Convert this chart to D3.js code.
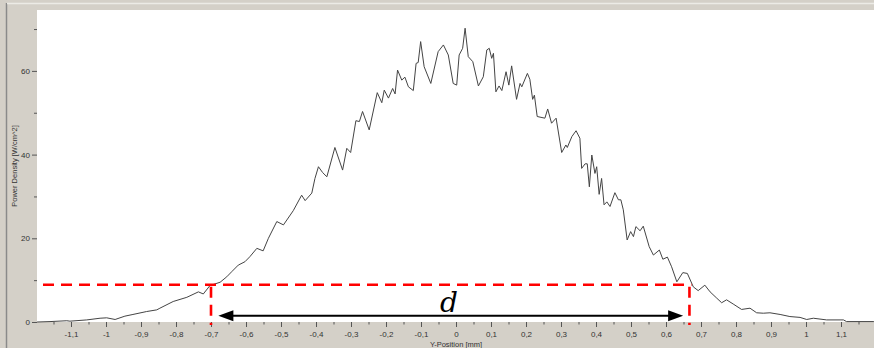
<!DOCTYPE html>
<html>
<head>
<meta charset="utf-8">
<script src="https://cdn.jsdelivr.net/npm/d3@7/dist/d3.min.js"></script>
<style>
  html, body { margin: 0; padding: 0; background: #d4d0c8; }
  svg { display: block; }
</style>
</head>
<body>
<svg id="chart" width="874" height="348"></svg>
<script>
// ---- data ----
const yPositionMm = [
  -1.197, -1.160, -1.112, -1.103, -1.055, -1.017, -0.998, -0.974, -0.946, -0.923,
  -0.884, -0.855, -0.846, -0.808, -0.769, -0.736, -0.722, -0.703, -0.674, -0.655,
  -0.641, -0.622, -0.603, -0.589, -0.569, -0.551, -0.536, -0.512, -0.493, -0.465,
  -0.441, -0.431, -0.412, -0.403, -0.393, -0.381, -0.369, -0.346, -0.324, -0.312,
  -0.301, -0.286, -0.276, -0.267, -0.248, -0.225, -0.212, -0.205, -0.193, -0.181,
  -0.174, -0.167, -0.155, -0.146, -0.136, -0.122, -0.114, -0.108, -0.101, -0.091,
  -0.072, -0.051, -0.036, -0.022, -0.008, 0.002, 0.009, 0.019, 0.026, 0.035,
  0.048, 0.064, 0.078, 0.088, 0.095, 0.102, 0.107, 0.114, 0.123, 0.131,
  0.143, 0.151, 0.159, 0.173, 0.183, 0.188, 0.204, 0.211, 0.219, 0.224,
  0.232, 0.254, 0.262, 0.273, 0.286, 0.302, 0.314, 0.318, 0.331, 0.343,
  0.354, 0.359, 0.369, 0.375, 0.381, 0.388, 0.397, 0.402, 0.409, 0.416,
  0.423, 0.431, 0.440, 0.454, 0.464, 0.471, 0.478, 0.489, 0.499, 0.507,
  0.514, 0.526, 0.535, 0.552, 0.564, 0.581, 0.591, 0.604, 0.616, 0.631,
  0.648, 0.661, 0.678, 0.692, 0.711, 0.726, 0.745, 0.759, 0.773, 0.792,
  0.816, 0.840, 0.859, 0.878, 0.897, 0.926, 0.954, 0.983, 1.002, 1.021,
  1.059, 1.107, 1.116, 1.194
];
const powerDensity = [
  0.0, 0.1, 0.3, 0.2, 0.5, 0.9, 1.0, 0.6, 1.4, 1.8,
  2.5, 2.9, 3.3, 4.9, 5.9, 7.2, 6.7, 8.7, 9.5, 10.8,
  12.0, 13.6, 14.4, 15.6, 17.6, 17.0, 20.0, 24.0, 23.2, 26.6,
  30.3, 29.0, 30.8, 34.3, 37.1, 35.7, 34.7, 41.7, 36.3, 41.5,
  40.5, 48.1, 47.9, 50.3, 45.9, 54.8, 52.4, 55.4, 53.5, 55.8,
  54.5, 60.2, 57.8, 58.5, 56.2, 55.3, 61.8, 62.0, 67.0, 61.0,
  57.0, 64.6, 66.2, 63.8, 57.0, 56.6, 63.8, 65.4, 70.2, 63.4,
  62.2, 56.4, 58.6, 65.0, 65.4, 63.0, 64.2, 55.0, 56.4, 55.3,
  59.8, 56.6, 61.2, 53.2, 57.0, 56.2, 59.4, 58.0, 53.2, 54.2,
  49.1, 48.7, 50.9, 47.5, 48.7, 40.5, 42.3, 41.7, 44.3, 45.7,
  43.9, 36.7, 37.8, 37.8, 32.3, 39.9, 35.5, 37.1, 30.5, 34.3,
  28.0, 28.7, 27.6, 30.9, 29.2, 29.2, 26.8, 19.6, 21.6, 20.4,
  22.8, 21.8, 22.9, 18.0, 16.0, 17.2, 15.0, 15.5, 13.2, 9.6,
  11.8, 11.6, 8.4, 7.5, 8.8, 7.2, 5.7, 4.6, 5.3, 4.3,
  3.0, 3.3, 2.2, 2.1, 2.2, 1.8, 1.3, 1.1, 0.6, 0.9,
  0.5, 0.5, 0.1, 0.1
];
const xMajorTicks = [-1.1, -1, -0.9, -0.8, -0.7, -0.6, -0.5, -0.4, -0.3, -0.2, -0.1, 0,
                     0.1, 0.2, 0.3, 0.4, 0.5, 0.6, 0.7, 0.8, 0.9, 1, 1.1];
const xMinorTicks = [-1.15, -1.05, -0.95, -0.85, -0.75, -0.65, -0.55, -0.45, -0.35, -0.25, -0.15, -0.05,
                     0.05, 0.15, 0.25, 0.35, 0.45, 0.55, 0.65, 0.75, 0.85, 0.95, 1.05, 1.15];
const yMajorTicks = [0, 20, 40, 60];
const yMinorTicks = [10, 30, 50, 70];
const xAxisTitle = "Y-Position [mm]";
const yAxisTitle = "Power Density [W/cm^2]";
const thresholdLevel = [8.9];          // red dashed horizontal level
const thresholdStart = [-1.18];
const widthBounds = [-0.7, 0.667];     // red dashed verticals
const arrowEnds = [-0.679, 0.649];     // double arrow "d"
const arrowLevel = [1.5];
const annotationLabel = "d";

// ---- layout ----
const svg = d3.select("#chart");
const W = 874, H = 348;
const plot = { left: 37, top: 10, right: 874, bottom: 322 };

const x = d3.scaleLinear().domain([-1.2, 1.2]).range([36, 876]);
const y = d3.scaleLinear().domain([0, 74.55]).range([plot.bottom, plot.top]);

// window frame
svg.append("rect").attr("x", 0).attr("y", 0).attr("width", W).attr("height", H).attr("fill", "#d4d0c8");
svg.append("line").attr("x1", 6.5).attr("x2", 6.5).attr("y1", 3).attr("y2", H)
  .attr("stroke", "#8a8a8a").attr("stroke-width", 1.5);
svg.append("line").attr("x1", 7).attr("x2", W).attr("y1", 3.5).attr("y2", 3.5)
  .attr("stroke", "#ecebe6").attr("stroke-width", 1.5);

// plot area
svg.append("rect").attr("x", plot.left).attr("y", plot.top)
  .attr("width", plot.right - plot.left).attr("height", plot.bottom - plot.top)
  .attr("fill", "#ffffff");

const fmt = v => String(v).replace(".", ",");
const tickColor = "#555";
const labelFont = "Liberation Sans, Arial, sans-serif";

// x axis
const gx = svg.append("g").attr("transform", `translate(0,${plot.bottom})`)
  .call(d3.axisBottom(x).tickValues(xMajorTicks).tickFormat(fmt).tickSize(5).tickPadding(4));
gx.select(".domain").remove();
gx.selectAll("line").attr("stroke", tickColor);
gx.selectAll("text").attr("font-family", labelFont).attr("font-size", 8).attr("fill", "#333");
const gxm = svg.append("g").attr("transform", `translate(0,${plot.bottom})`)
  .call(d3.axisBottom(x).tickValues(xMinorTicks).tickFormat("").tickSize(2.5));
gxm.select(".domain").remove();
gxm.selectAll("line").attr("stroke", tickColor);

// y axis
const gy = svg.append("g").attr("transform", `translate(${plot.left},0)`)
  .call(d3.axisLeft(y).tickValues(yMajorTicks).tickFormat(d => String(d)).tickSize(5).tickPadding(2));
gy.select(".domain").remove();
gy.selectAll("line").attr("stroke", tickColor);
gy.selectAll("text").attr("font-family", labelFont).attr("font-size", 8).attr("fill", "#333");
const gym = svg.append("g").attr("transform", `translate(${plot.left},0)`)
  .call(d3.axisLeft(y).tickValues(yMinorTicks).tickFormat("").tickSize(3));
gym.select(".domain").remove();
gym.selectAll("line").attr("stroke", tickColor);

// axis titles
svg.append("text").attr("x", (x(0))).attr("y", 346.5).attr("text-anchor", "middle")
  .attr("font-family", labelFont).attr("font-size", 7.5).attr("fill", "#333").text(xAxisTitle);
svg.append("text").attr("transform", `translate(16.5,${(plot.top + plot.bottom) / 2}) rotate(-90)`)
  .attr("text-anchor", "middle").attr("font-family", labelFont).attr("font-size", 7.5)
  .attr("fill", "#333").text(yAxisTitle);

// curve
const pts = yPositionMm.map((v, i) => [v, powerDensity[i]]);
svg.append("path").datum(pts)
  .attr("fill", "none").attr("stroke", "#444").attr("stroke-width", 1)
  .attr("d", d3.line().x(d => x(d[0])).y(d => y(d[1])));

// red dashed annotation lines
const red = "#ff0000";
svg.append("line")
  .attr("x1", x(thresholdStart[0])).attr("x2", x(widthBounds[1]) + 2)
  .attr("y1", y(thresholdLevel[0])).attr("y2", y(thresholdLevel[0]))
  .attr("stroke", red).attr("stroke-width", 2.6).attr("stroke-dasharray", "11,7");
svg.selectAll(".vdash").data(widthBounds).join("line").attr("class", "vdash")
  .attr("x1", d => x(d)).attr("x2", d => x(d))
  .attr("y1", y(thresholdLevel[0]) + 2).attr("y2", plot.bottom + 3)
  .attr("stroke", red).attr("stroke-width", 2.6).attr("stroke-dasharray", "11,7");

// double arrow
const ay = y(arrowLevel[0]);
const xa = x(arrowEnds[0]), xb = x(arrowEnds[1]);
const headL = 15, headH = 5.5;
svg.append("line").attr("x1", xa + headL - 2).attr("x2", xb - headL + 2)
  .attr("y1", ay).attr("y2", ay).attr("stroke", "#000").attr("stroke-width", 2);
svg.append("path")
  .attr("d", `M${xa},${ay} L${xa + headL},${ay - headH} L${xa + headL},${ay + headH} Z`)
  .attr("fill", "#000");
svg.append("path")
  .attr("d", `M${xb},${ay} L${xb - headL},${ay - headH} L${xb - headL},${ay + headH} Z`)
  .attr("fill", "#000");

svg.append("text").attr("x", x(-0.02)).attr("y", 311.5).attr("text-anchor", "middle")
  .attr("font-family", "DejaVu Serif, Liberation Serif, serif").attr("font-style", "italic")
  .attr("font-size", 28).attr("fill", "#000").text(annotationLabel);
</script>
</body>
</html>
